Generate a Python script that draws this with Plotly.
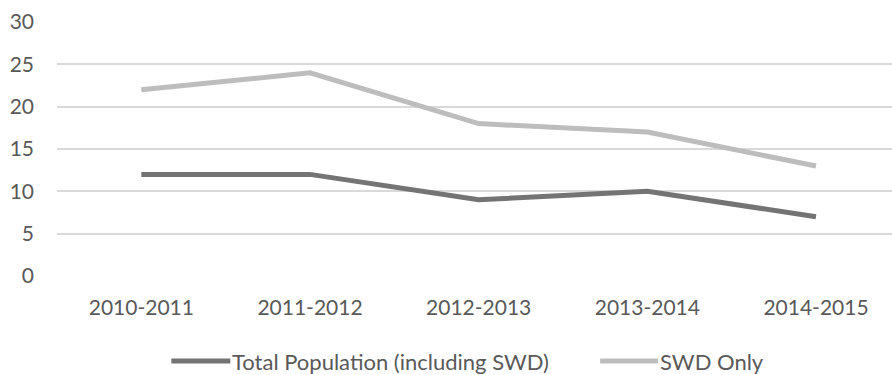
import plotly.graph_objects as go

categories = ["2010-2011", "2011-2012", "2012-2013", "2013-2014", "2014-2015"]
total_population = [12, 12, 9, 10, 7]
swd_only = [22, 24, 18, 17, 13]
series_names = ["Total Population (including SWD)", "SWD Only"]
y_ticks = [0, 5, 10, 15, 20, 25, 30]

DARK = "#747474"
LIGHT = "#bdbdbd"
TEXT = "#595959"
GRID = "#d9d9d9"
FONT = "Lato"

W, H = 892, 375
ML, MT, MB = 56.6, 22.3, 375 - 276

fig = go.Figure()
fig.add_trace(go.Scatter(x=categories, y=total_population, mode="lines",
                         name=series_names[0],
                         line=dict(color=DARK, width=5), showlegend=False))
fig.add_trace(go.Scatter(x=categories, y=swd_only, mode="lines",
                         name=series_names[1],
                         line=dict(color=LIGHT, width=5), showlegend=False))

# custom legend (paper coordinates)
plot_w = W - ML
plot_h = H - MT - MB


def px_x(p):
    return (p - ML) / plot_w


def px_y(p):
    return (H - MB - p) / plot_h


legend_y = px_y(361)
legend_items = [(171, 230, DARK, series_names[0]), (600, 658, LIGHT, series_names[1])]
for x0, x1, col, name in legend_items:
    fig.add_shape(type="line", xref="paper", yref="paper",
                  x0=px_x(x0), x1=px_x(x1), y0=legend_y, y1=legend_y,
                  line=dict(color=col, width=5))
    fig.add_annotation(xref="paper", yref="paper", x=px_x(x1), y=legend_y,
                       xanchor="left", yanchor="middle", text=name,
                       showarrow=False, font=dict(family=FONT, size=22, color=TEXT))

fig.update_layout(
    width=W, height=H,
    margin=dict(l=ML, r=0, t=MT, b=MB, pad=0),
    paper_bgcolor="white", plot_bgcolor="white",
    font=dict(family=FONT, size=21, color=TEXT),
    showlegend=False,
)
fig.update_xaxes(type="category", range=[-0.5, (W - ML) / 168.75 - 0.5],
                 showgrid=False, showline=False, zeroline=False,
                 ticks="", ticklabelstandoff=17,
                 tickfont=dict(family=FONT, size=21, color=TEXT))
fig.update_yaxes(range=[0, 30], tickvals=y_ticks, showgrid=True, gridcolor=GRID,
                 gridwidth=2, zeroline=False, showline=False, ticks="",
                 ticklabelstandoff=22,
                 tickfont=dict(family=FONT, size=21, color=TEXT))

fig.write_html("out.html")
